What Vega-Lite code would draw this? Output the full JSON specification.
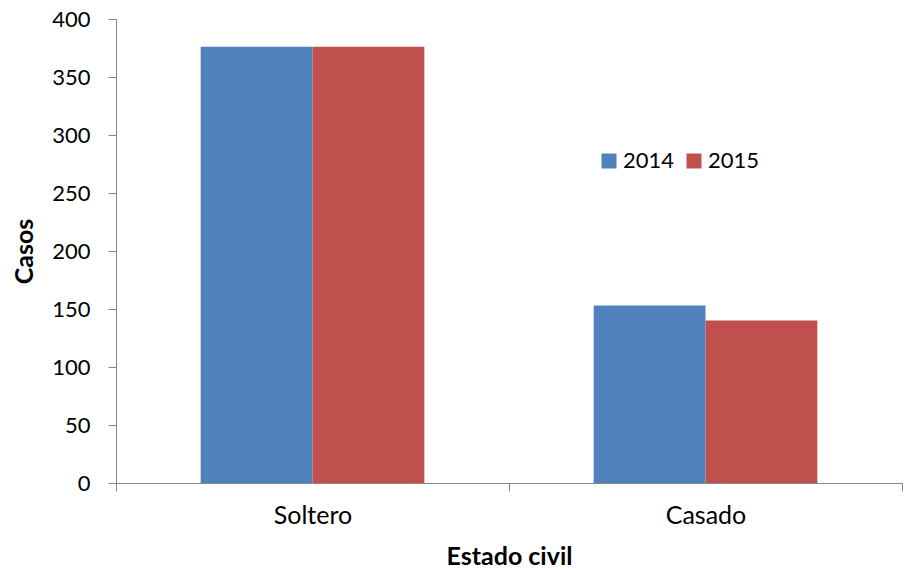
{
  "$schema": "https://vega.github.io/schema/vega-lite/v6.json",
  "width": 786,
  "height": 464,
  "autosize": {"type": "none"},
  "padding": {"left": 116, "top": 19, "right": 5, "bottom": 86},
  "background": "white",
  "config": {
    "view": {"stroke": null},
    "font": "Lato",
    "axis": {
      "domainColor": "#868686",
      "tickColor": "#868686",
      "labelColor": "#000000",
      "titleColor": "#000000",
      "labelFont": "Lato",
      "titleFont": "Lato",
      "labelFontSize": 22,
      "titleFontSize": 25,
      "titleFontWeight": "bold",
      "tickSize": 8,
      "grid": false
    }
  },
  "data": {
    "values": [
      {"estado": "Soltero", "anio": "2014", "casos": 376},
      {"estado": "Soltero", "anio": "2015", "casos": 376},
      {"estado": "Casado", "anio": "2014", "casos": 153},
      {"estado": "Casado", "anio": "2015", "casos": 140}
    ]
  },
  "mark": {"type": "bar"},
  "encoding": {
    "x": {
      "field": "estado",
      "type": "nominal",
      "sort": ["Soltero", "Casado"],
      "scale": {"paddingInner": 0, "paddingOuter": 0},
      "axis": {
        "title": "Estado civil",
        "labelAngle": 0,
        "labelFontSize": 25,
        "tickBand": "extent",
        "labelPadding": 12,
        "titlePadding": 16
      }
    },
    "xOffset": {
      "field": "anio",
      "type": "nominal",
      "scale": {"paddingInner": 0, "paddingOuter": 0.757}
    },
    "y": {
      "field": "casos",
      "type": "quantitative",
      "scale": {"domain": [0, 400], "nice": false},
      "axis": {
        "title": "Casos",
        "values": [0, 50, 100, 150, 200, 250, 300, 350, 400],
        "labelPadding": 18,
        "titlePadding": 14
      }
    },
    "color": {
      "field": "anio",
      "type": "nominal",
      "scale": {"domain": ["2014", "2015"], "range": ["#4F81BD", "#C0504D"]},
      "legend": {
        "title": null,
        "orient": "none",
        "legendX": 482,
        "legendY": 131,
        "direction": "horizontal",
        "symbolType": "square",
        "symbolSize": 225,
        "symbolStrokeWidth": 0,
        "labelFontSize": 22,
        "labelFont": "Lato",
        "labelColor": "#000000",
        "labelOffset": 3,
        "columnPadding": 8
      }
    }
  }
}
